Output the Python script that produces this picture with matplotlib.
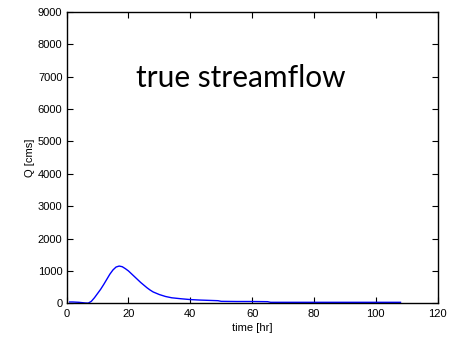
import matplotlib
matplotlib.use("Agg")
import matplotlib.pyplot as plt

# Hydrograph: time [hr] and discharge Q [cms]
time_hr = [1, 2, 3, 4, 5, 6, 7, 8, 9, 10, 11, 12, 13, 14, 15, 16, 17, 18, 19, 20,
           21, 22, 23, 24, 25, 26, 27, 28, 29, 30, 31, 32, 33, 34, 35, 37, 40, 43,
           46, 49, 50, 55, 60, 65, 66, 80, 100, 108]
flow_cms = [40, 40, 35, 30, 20, 10, 5, 60, 170, 300, 430, 580, 740, 900, 1030, 1120,
            1150, 1130, 1070, 1000, 910, 820, 730, 640, 560, 480, 410, 350, 310, 270,
            240, 210, 190, 170, 160, 140, 115, 100, 90, 80, 60, 55, 55, 50, 30, 30, 30, 30]

x_ticks = [0, 20, 40, 60, 80, 100, 120]
y_ticks = [0, 1000, 2000, 3000, 4000, 5000, 6000, 7000, 8000, 9000]

plt.rcParams['font.family'] = ['Liberation Sans', 'DejaVu Sans']

fig = plt.figure(figsize=(4.53, 3.38), dpi=100)
ax = fig.add_axes([0.147, 0.1027, 0.819, 0.862])

ax.plot(time_hr, flow_cms, color=(0, 0, 1), lw=1.0)

ax.set_xlim(0, 120)
ax.set_ylim(0, 9000)
ax.set_xticks(x_ticks)
ax.set_yticks(y_ticks)
ax.tick_params(direction='in', top=True, right=True, length=4, width=0.8,
               labelsize=8)
ax.tick_params(axis='x', pad=4)
ax.tick_params(axis='y', pad=3)
for s in ax.spines.values():
    s.set_linewidth(1.0)

ax.set_xlabel('time [hr]', fontsize=8, labelpad=3)
ax.set_ylabel('Q [cms]', fontsize=8, labelpad=2)

ax.text(22.3, 6692, 'true streamflow', family='Lato', fontsize=21.5,
        ha='left', va='baseline', color='black')

fig.savefig('out.png', dpi=100)
